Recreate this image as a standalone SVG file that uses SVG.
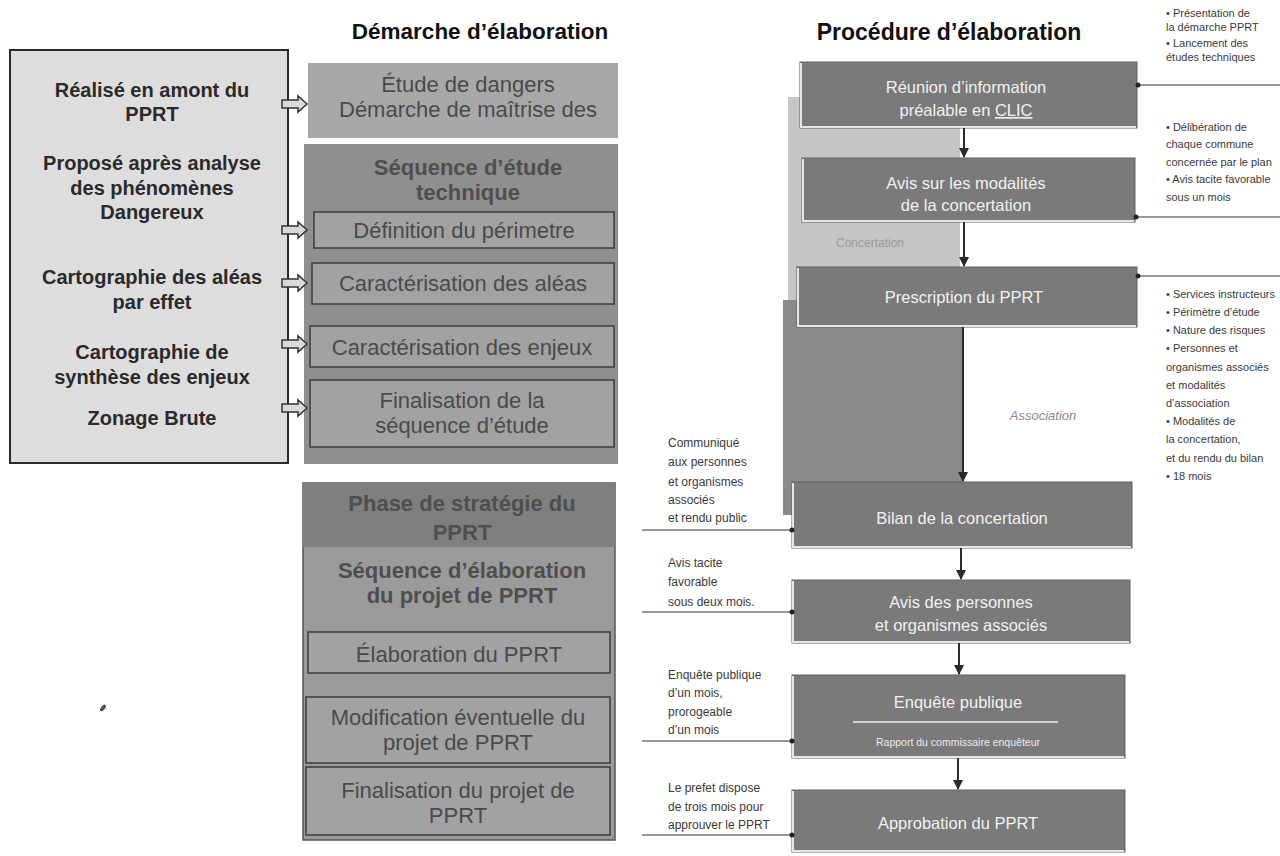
<svg xmlns="http://www.w3.org/2000/svg" width="1280" height="856" viewBox="0 0 1280 856">
<style>
  .title{font-family:"Liberation Sans",Arial,sans-serif;font-weight:bold;fill:#111;text-anchor:middle}
  .lt{font-family:"Liberation Sans",Arial,sans-serif;font-weight:bold;font-size:20px;fill:#2a2a2a;text-anchor:middle}
  .mt{font-family:"Liberation Sans",Arial,sans-serif;font-size:22px;fill:#4a4a4a;text-anchor:middle}
  .mb{font-family:"Liberation Sans",Arial,sans-serif;font-size:22px;font-weight:bold;fill:#4e4e4e;text-anchor:middle}
  .rt{font-family:"Liberation Sans",Arial,sans-serif;font-size:16.5px;fill:#f2f2f2;text-anchor:middle}
  .note{font-family:"Liberation Sans",Arial,sans-serif;font-size:12px;fill:#3a3a3a}
  .rnote{font-family:"Liberation Sans",Arial,sans-serif;font-size:11px;fill:#3a3a3a}
  .rbox{fill:#7a7a7a;stroke:#606060;stroke-width:1}
  .rhl{fill:none;stroke:#e6e6e6;stroke-width:2}
  .ibox{fill:#a2a2a2;stroke:#3c3c3c;stroke-width:1.5}
  .blk{fill:#dadada;stroke:#333;stroke-width:1.5}
  .conn{stroke:#2a2a2a;stroke-width:2;fill:none}
  .side{stroke:#333;stroke-width:1.2;fill:none}
</style>
<defs>
  <marker id="ah" viewBox="0 0 10 10" refX="9" refY="5" markerWidth="5" markerHeight="5" orient="auto">
    <path d="M0,0 L10,5 L0,10 Z" fill="#2a2a2a"/>
  </marker>
  <path id="blkarrow" class="blk" d="M0,-4 H16 V-8 L25,0 L16,8 V4 H0 Z"/>
</defs>
<rect width="1280" height="856" fill="#ffffff"/>

<text class="title" x="480" y="39" font-size="22.5">Démarche d’élaboration</text>
<text class="title" x="949" y="40" font-size="23">Procédure d’élaboration</text>

<!-- Left box -->
<g id="left-box">
  <rect x="10" y="50" width="278" height="413" fill="#dedede" stroke="#2a2a2a" stroke-width="2"/>
  <text class="lt" x="152" y="97">Réalisé en amont du</text>
  <text class="lt" x="152" y="121">PPRT</text>
  <text class="lt" x="152" y="170">Proposé après analyse</text>
  <text class="lt" x="152" y="195">des phénomènes</text>
  <text class="lt" x="152" y="219">Dangereux</text>
  <text class="lt" x="152" y="284">Cartographie des aléas</text>
  <text class="lt" x="152" y="309">par effet</text>
  <text class="lt" x="152" y="359">Cartographie de</text>
  <text class="lt" x="152" y="384">synthèse des enjeux</text>
  <text class="lt" x="152" y="425">Zonage Brute</text>
</g>

<!-- Middle top -->
<g id="etude-dangers">
  <rect x="308" y="63" width="310" height="75" fill="#a8a8a8"/>
  <text class="mt" x="468" y="92">Étude de dangers</text>
  <text class="mt" x="468" y="117">Démarche de maîtrise des</text>
</g>

<g id="sequence-etude">
  <rect x="304" y="144" width="314" height="320" fill="#8f8f8f"/>
  <text class="mb" x="468" y="175">Séquence d’étude</text>
  <text class="mb" x="468" y="200">technique</text>
</g>
<g id="definition">
  <rect class="ibox" x="314" y="212" width="300" height="36"/>
  <text class="mt" x="464" y="238">Définition du périmetre</text>
</g>
<g id="carac-aleas">
  <rect class="ibox" x="312" y="263" width="302" height="41"/>
  <text class="mt" x="463" y="291">Caractérisation des aléas</text>
</g>
<g id="carac-enjeux">
  <rect class="ibox" x="310" y="326" width="304" height="41"/>
  <text class="mt" x="462" y="355">Caractérisation des enjeux</text>
</g>
<g id="finalisation-seq">
  <rect class="ibox" x="310" y="380" width="304" height="67"/>
  <text class="mt" x="462" y="408">Finalisation de la</text>
  <text class="mt" x="462" y="433">séquence d’étude</text>
</g>

<!-- Middle bottom -->
<g id="phase-strategie">
  <rect x="303" y="483" width="312" height="357" fill="#9b9b9b" stroke="#555" stroke-width="1.5"/>
  <rect x="303" y="483" width="312" height="64" fill="#7f7f7f"/>
  <text class="mb" x="462" y="511">Phase de stratégie du</text>
  <text class="mb" x="462" y="540">PPRT</text>
  <text class="mb" x="462" y="578">Séquence d’élaboration</text>
  <text class="mb" x="462" y="603">du projet de PPRT</text>
</g>
<g id="elaboration">
  <rect class="ibox" x="308" y="632" width="302" height="41"/>
  <text class="mt" x="459" y="662">Élaboration du PPRT</text>
</g>
<g id="modification">
  <rect class="ibox" x="306" y="697" width="304" height="66"/>
  <text class="mt" x="458" y="725">Modification éventuelle du</text>
  <text class="mt" x="458" y="750">projet de PPRT</text>
</g>
<g id="finalisation-projet">
  <rect class="ibox" x="306" y="767" width="304" height="68"/>
  <text class="mt" x="458" y="798">Finalisation du projet de</text>
  <text class="mt" x="458" y="823">PPRT</text>
</g>

<!-- Right column background bands -->
<g id="bands">
  <rect x="788" y="97" width="172" height="205" fill="#c6c6c6"/>
  <rect x="783" y="300" width="180" height="215" fill="#8a8a8a"/>
  <text x="870" y="247" font-family="Liberation Sans, Arial, sans-serif" font-size="12" fill="#9a9a9a" text-anchor="middle">Concertation</text>
  <text x="1043" y="420" font-family="Liberation Sans, Arial, sans-serif" font-size="13" font-style="italic" fill="#8a8a8a" text-anchor="middle">Association</text>
</g>

<!-- Right boxes -->
<g id="reunion">
  <rect class="rbox" x="800" y="62" width="337" height="66"/>
  <path class="rhl" d="M801,63 V127 H1136"/>
  <text class="rt" x="966" y="93">Réunion d’information</text>
  <text class="rt" x="966" y="116">préalable en <tspan text-decoration="underline">CLIC</tspan></text>
</g>
<g id="avis-modalites">
  <rect class="rbox" x="802" y="158" width="333" height="64"/>
  <path class="rhl" d="M803,159 V221 H1134"/>
  <text class="rt" x="966" y="189">Avis sur les modalités</text>
  <text class="rt" x="966" y="211">de la concertation</text>
</g>
<g id="prescription">
  <rect class="rbox" x="797" y="267" width="340" height="60"/>
  <path class="rhl" d="M798,268 V326 H1136"/>
  <text class="rt" x="964" y="303">Prescription du PPRT</text>
</g>
<g id="bilan">
  <rect class="rbox" x="792" y="482" width="340" height="66"/>
  <path class="rhl" d="M793,483 V547 H1131"/>
  <text class="rt" x="962" y="524">Bilan de la concertation</text>
</g>
<g id="avis-personnes">
  <rect class="rbox" x="792" y="580" width="338" height="63"/>
  <path class="rhl" d="M793,581 V642 H1129"/>
  <text class="rt" x="961" y="608">Avis des personnes</text>
  <text class="rt" x="961" y="631">et organismes associés</text>
</g>
<g id="enquete">
  <rect class="rbox" x="792" y="675" width="333" height="83"/>
  <path class="rhl" d="M793,676 V757 H1124"/>
  <text class="rt" x="958" y="708">Enquête publique</text>
  <line x1="853" y1="722" x2="1058" y2="722" stroke="#f0f0f0" stroke-width="1.5"/>
  <text x="958" y="746" font-family="Liberation Sans, Arial, sans-serif" font-size="10.5" fill="#ececec" text-anchor="middle">Rapport du commissaire enquêteur</text>
</g>
<g id="approbation">
  <rect class="rbox" x="792" y="790" width="333" height="62"/>
  <path class="rhl" d="M793,791 V851 H1124"/>
  <text class="rt" x="958" y="829">Approbation du PPRT</text>
</g>

<!-- Connectors -->
<g id="connectors">
  <use href="#blkarrow" x="282" y="104"/>
  <use href="#blkarrow" x="282" y="230"/>
  <use href="#blkarrow" x="282" y="283"/>
  <use href="#blkarrow" x="282" y="344"/>
  <use href="#blkarrow" x="282" y="408"/>

  <line class="conn" x1="964" y1="128" x2="964" y2="157" marker-end="url(#ah)"/>
  <line class="conn" x1="964" y1="222" x2="964" y2="266" marker-end="url(#ah)"/>
  <line class="conn" x1="963" y1="327" x2="963" y2="481" marker-end="url(#ah)"/>
  <line class="conn" x1="961" y1="548" x2="961" y2="579" marker-end="url(#ah)"/>
  <line class="conn" x1="959" y1="643" x2="959" y2="674" marker-end="url(#ah)"/>
  <line class="conn" x1="958" y1="758" x2="958" y2="789" marker-end="url(#ah)"/>

  <line class="side" x1="1138" y1="85" x2="1280" y2="85"/>
  <line class="side" x1="1136" y1="217" x2="1280" y2="217"/>
  <line class="side" x1="1138" y1="276" x2="1280" y2="276"/>
  <circle cx="1138" cy="85" r="2.5" fill="#222"/>
  <circle cx="1136" cy="217" r="2.5" fill="#222"/>
  <circle cx="1138" cy="276" r="2.5" fill="#222"/>

  <line class="side" x1="642" y1="530" x2="792" y2="530"/>
  <line class="side" x1="642" y1="612" x2="792" y2="612"/>
  <line class="side" x1="642" y1="741" x2="792" y2="741"/>
  <line class="side" x1="642" y1="835" x2="792" y2="835"/>
  <circle cx="792" cy="530" r="2.5" fill="#222"/>
  <circle cx="792" cy="612" r="2.5" fill="#222"/>
  <circle cx="792" cy="741" r="2.5" fill="#222"/>
  <circle cx="792" cy="835" r="2.5" fill="#222"/>
</g>

<!-- Notes right -->
<g id="notes-right">
  <text class="rnote" x="1166" y="17">• Présentation de</text>
  <text class="rnote" x="1166" y="31">la démarche PPRT</text>
  <text class="rnote" x="1166" y="47">• Lancement des</text>
  <text class="rnote" x="1166" y="61">études techniques</text>

  <text class="rnote" x="1166" y="131">• Délibération de</text>
  <text class="rnote" x="1166" y="148">chaque commune</text>
  <text class="rnote" x="1166" y="166">concernée par le plan</text>
  <text class="rnote" x="1166" y="183">• Avis tacite favorable</text>
  <text class="rnote" x="1166" y="201">sous un mois</text>

  <text class="rnote" x="1166" y="298">• Services instructeurs</text>
  <text class="rnote" x="1166" y="316">• Périmètre d’étude</text>
  <text class="rnote" x="1166" y="334">• Nature des risques</text>
  <text class="rnote" x="1166" y="352">• Personnes et</text>
  <text class="rnote" x="1166" y="371">organismes associés</text>
  <text class="rnote" x="1166" y="389">et modalités</text>
  <text class="rnote" x="1166" y="407">d’association</text>
  <text class="rnote" x="1166" y="425">• Modalités de</text>
  <text class="rnote" x="1166" y="443">la concertation,</text>
  <text class="rnote" x="1166" y="462">et du rendu du bilan</text>
  <text class="rnote" x="1166" y="480">• 18 mois</text>
</g>

<!-- Notes left -->
<g id="notes-left">
  <text class="note" x="668" y="447">Communiqué</text>
  <text class="note" x="668" y="466">aux personnes</text>
  <text class="note" x="668" y="486">et organismes</text>
  <text class="note" x="668" y="504">associés</text>
  <text class="note" x="668" y="522">et rendu public</text>

  <text class="note" x="668" y="567">Avis tacite</text>
  <text class="note" x="668" y="586">favorable</text>
  <text class="note" x="668" y="606">sous deux mois.</text>

  <text class="note" x="668" y="679">Enquête publique</text>
  <text class="note" x="668" y="697">d’un mois,</text>
  <text class="note" x="668" y="716">prorogeable</text>
  <text class="note" x="668" y="734">d’un mois</text>

  <text class="note" x="668" y="792">Le prefet dispose</text>
  <text class="note" x="668" y="811">de trois mois pour</text>
  <text class="note" x="668" y="829">approuver le PPRT</text>
</g>

<ellipse cx="103" cy="708" rx="4" ry="2" transform="rotate(-50 103 708)" fill="#555"/>
</svg>
